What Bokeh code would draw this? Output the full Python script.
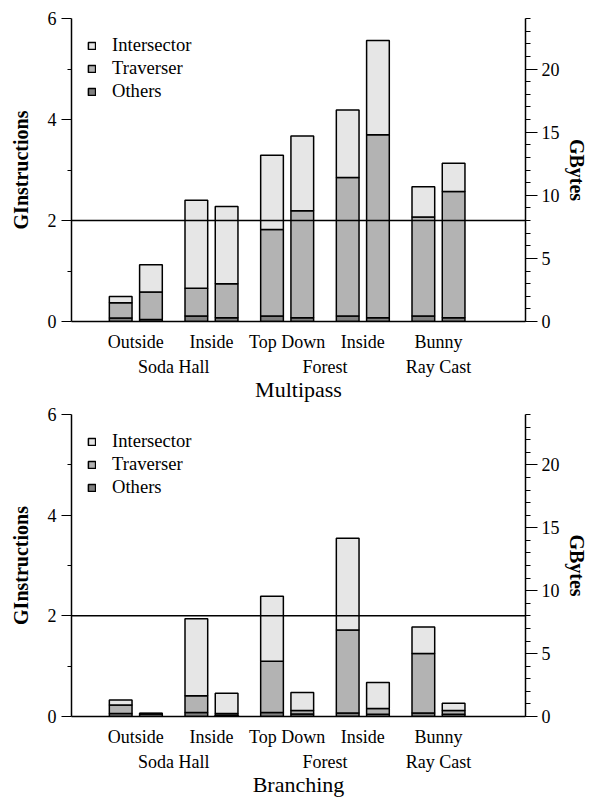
import numpy as np
from bokeh.plotting import figure
from bokeh.models import Range1d, LinearAxis, FixedTicker, Legend, LegendItem, Span
from bokeh.layouts import column
from bokeh.embed import file_html
from bokeh.resources import INLINE

# ---------------- data ----------------
cases = ["Outside", "Inside", "Top Down", "Inside", "Bunny"]
scenes = ["Soda Hall", "Forest", "Ray Cast"]
scene_of_case = [0, 0, 1, 1, 2]
components = ["Others", "Traverser", "Intersector"]
colors = ["#808080", "#b3b3b3", "#e6e6e6"]

# Multipass - GInstructions (left axis), stacked segments
mp_gi_others = [0.07, 0.11, 0.11, 0.11, 0.11]
mp_gi_traverser = [0.30, 0.55, 1.71, 2.74, 1.96]
mp_gi_intersector = [0.125, 1.74, 1.47, 1.34, 0.60]
# Multipass - GBytes (right axis)
mp_gb_others = [0.16, 0.29, 0.29, 0.29, 0.29]
mp_gb_traverser = [2.17, 2.70, 8.49, 14.51, 10.01]
mp_gb_intersector = [2.17, 6.11, 5.92, 7.45, 2.24]

# Branching - GInstructions
br_gi_others = [0.06, 0.08, 0.08, 0.07, 0.07]
br_gi_traverser = [0.17, 0.33, 1.02, 1.65, 1.18]
br_gi_intersector = [0.10, 1.53, 1.29, 1.82, 0.53]
# Branching - GBytes
br_gb_others = [0.20, 0.10, 0.20, 0.17, 0.17]
br_gb_traverser = [0.03, 0.14, 0.27, 0.46, 0.30]
br_gb_intersector = [0.02, 1.61, 1.43, 2.07, 0.59]

gi_ticks = [0, 2, 4, 6]
gi_minor = [1, 3, 5]
gb_ticks = [0, 5, 10, 15, 20]
gb_minor = list(range(0, 25))
ref_line = 2

FONT = "Liberation Serif"
W = 590
BL, BR = 71, 65


def make_panel(title, gi_segs, gb_segs, height, top_border, bottom_border):
    p = figure(width=W, height=height, output_backend="svg", toolbar_location=None,
               x_range=Range1d(0.15, 6.15), y_range=Range1d(0, 6),
               min_border_left=BL, min_border_right=BR, min_border_top=top_border,
               min_border_bottom=bottom_border)
    p.outline_line_color = None
    p.xgrid.visible = False
    p.ygrid.visible = False
    p.extra_y_ranges = {"gb": Range1d(0, 24)}

    case_x = np.arange(1, len(cases) + 1, dtype=float)
    renderers = []
    bottom = np.zeros(len(cases))
    for k, seg in enumerate(gi_segs):
        top = bottom + np.array(seg)
        r = p.vbar(x=case_x - 0.2, width=0.3, bottom=bottom, top=top,
                   fill_color=colors[k], line_color="black", line_width=1.5)
        renderers.append(r)
        bottom = top
    bottom = np.zeros(len(cases))
    for k, seg in enumerate(gb_segs):
        top = bottom + np.array(seg)
        p.vbar(x=case_x + 0.2, width=0.3, bottom=bottom, top=top,
               fill_color=colors[k], line_color="black", line_width=1.5,
               y_range_name="gb")
        bottom = top

    p.add_layout(Span(location=ref_line, dimension="width", line_color="black", line_width=1.5))

    # left axis
    ya = p.yaxis[0]
    ya.ticker = FixedTicker(ticks=gi_ticks, minor_ticks=gi_minor)
    ya.axis_label = "GInstructions"
    ya.axis_label_text_font = FONT
    ya.axis_label_text_font_style = "bold"
    ya.axis_label_text_font_size = "20px"
    ya.axis_label_text_color = "black"
    ya.axis_label_standoff = 13
    ya.major_label_text_font = FONT
    ya.major_label_text_font_size = "18px"
    ya.major_label_text_color = "black"
    ya.major_label_standoff = 5
    ya.major_tick_out = 10
    ya.major_tick_in = 0
    ya.minor_tick_out = 4
    ya.minor_tick_in = 0
    ya.axis_line_width = 1.5
    ya.major_tick_line_width = 1.2
    ya.minor_tick_line_width = 1.2

    # right axis
    ra = LinearAxis(y_range_name="gb", ticker=FixedTicker(ticks=gb_ticks, minor_ticks=gb_minor))
    ra.axis_label = "GBytes"
    ra.axis_label_text_font = FONT
    ra.axis_label_text_font_style = "bold"
    ra.axis_label_text_font_size = "20px"
    ra.axis_label_text_color = "black"
    ra.axis_label_standoff = 3
    ra.major_label_text_font = FONT
    ra.major_label_text_font_size = "18px"
    ra.major_label_text_color = "black"
    ra.major_label_standoff = 4
    ra.major_tick_out = 12
    ra.major_tick_in = 0
    ra.minor_tick_out = 5
    ra.minor_tick_in = 0
    ra.axis_line_width = 1.5
    ra.major_tick_line_width = 1.2
    ra.minor_tick_line_width = 1.2
    p.add_layout(ra, "right")

    # bottom axis 1 : case names
    xa = p.xaxis[0]
    xa.ticker = FixedTicker(ticks=list(case_x))
    xa.major_label_overrides = {float(x): name for x, name in zip(case_x, cases)}
    xa.major_label_text_font = FONT
    xa.major_label_text_font_size = "18px"
    xa.major_label_text_color = "black"
    xa.major_label_standoff = 10
    xa.major_tick_line_color = None
    xa.minor_tick_line_color = None
    xa.major_tick_out = 0
    xa.major_tick_in = 0
    xa.axis_line_width = 1.5

    # bottom axis 2 : scene names + panel title
    scene_x = [float(np.mean([case_x[i] for i, s in enumerate(scene_of_case) if s == j]))
               for j in range(len(scenes))]
    xb = LinearAxis(ticker=FixedTicker(ticks=scene_x))
    xb.major_label_overrides = {x: name for x, name in zip(scene_x, scenes)}
    xb.major_label_text_font = FONT
    xb.major_label_text_font_size = "18px"
    xb.major_label_text_color = "black"
    xb.major_label_standoff = 2
    xb.axis_line_color = None
    xb.major_tick_line_color = None
    xb.minor_tick_line_color = None
    xb.major_tick_out = 0
    xb.major_tick_in = 0
    xb.axis_label = title
    xb.axis_label_text_font = FONT
    xb.axis_label_text_font_style = "normal"
    xb.axis_label_text_font_size = "22px"
    xb.axis_label_text_color = "black"
    xb.axis_label_standoff = -3
    p.add_layout(xb, "below")

    items = [LegendItem(label=components[k], renderers=[renderers[k]]) for k in (2, 1, 0)]
    leg = Legend(items=items, location="top_left")
    leg.label_text_font = FONT
    leg.label_text_font_size = "18.6px"
    leg.label_text_color = "black"
    leg.glyph_width = 9
    leg.glyph_height = 9
    leg.label_standoff = 16
    leg.label_height = 18
    leg.spacing = 1
    leg.padding = 7
    leg.margin = 16
    leg.border_line_color = None
    leg.background_fill_alpha = 0
    p.add_layout(leg)
    return p


p1 = make_panel("Multipass",
                [mp_gi_others, mp_gi_traverser, mp_gi_intersector],
                [mp_gb_others, mp_gb_traverser, mp_gb_intersector],
                height=404, top_border=18, bottom_border=83)
p2 = make_panel("Branching",
                [br_gi_others, br_gi_traverser, br_gi_intersector],
                [br_gb_others, br_gb_traverser, br_gb_intersector],
                height=395, top_border=10, bottom_border=83)

layout = column(p1, p2, spacing=0)
open("out.html", "w").write(file_html(layout, INLINE))
